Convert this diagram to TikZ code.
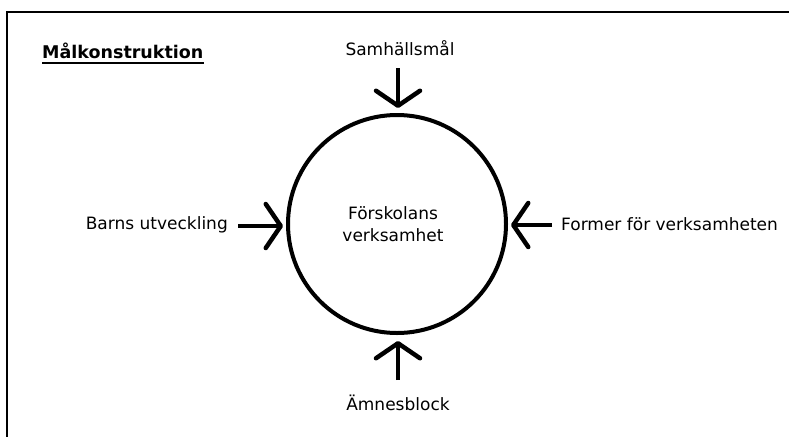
\documentclass[tikz,border=0pt]{standalone}
\usepackage{fontspec}
\setmainfont{DejaVu Sans}
\usetikzlibrary{arrows.meta}
\begin{document}
\begin{tikzpicture}[x=1pt,y=-1pt,
  lbl/.style={font=\fontsize{17}{22}\selectfont, inner sep=0pt, align=center},
  ttl/.style={font=\fontsize{17.5}{22}\selectfont\bfseries, inner sep=0pt},
  arr/.style={line width=4.5pt, -{Straight Barb[length=15pt,width=44pt,round]}},
  circ/.style={draw, circle, line width=4pt, minimum size=218pt, inner sep=0pt},
  frame/.style={line width=2pt}]
\useasboundingbox (0,0) rectangle (789,437);
% frame (top and left)
\coordinate (ftr) at (789,12);
\coordinate (ftl) at (7,12);
\coordinate (fbl) at (7,437);
\draw[frame] (ftr) -- (ftl) -- (fbl);
% title
\node[ttl, anchor=base west] (title) at (42,58) {Målkonstruktion};
\draw[line width=2pt] (title.south west) ++(0,5) coordinate (ul1) -- (ul1 -| title.south east);
% circle
\node[circ] (c) at (397,224) {};
\node[lbl] (center) at (393,224) {Förskolans\\verksamhet};
% labels
\node[lbl] (top) at (400,48) {Samhällsmål};
\node[lbl, anchor=east] (left) at (228,225) {Barns utveckling};
\node[lbl, anchor=west] (right) at (561,224) {Former för verksamheten};
\node[lbl] (bottom) at (398,403) {Ämnesblock};
% arrow tails
\coordinate (ttail) at (398,68);
\coordinate (ltail) at (238,226);
\coordinate (rtail) at (552,225);
\coordinate (btail) at (398,380);
\draw[arr, shorten >=5pt] (ttail) -- (ttail |- c.north);
\draw[arr, shorten >=3pt] (ltail) -- (ltail -| c.west);
\draw[arr, shorten >=3pt] (rtail) -- (rtail -| c.east);
\draw[arr, shorten >=6pt] (btail) -- (btail |- c.south);
\end{tikzpicture}
\end{document}
